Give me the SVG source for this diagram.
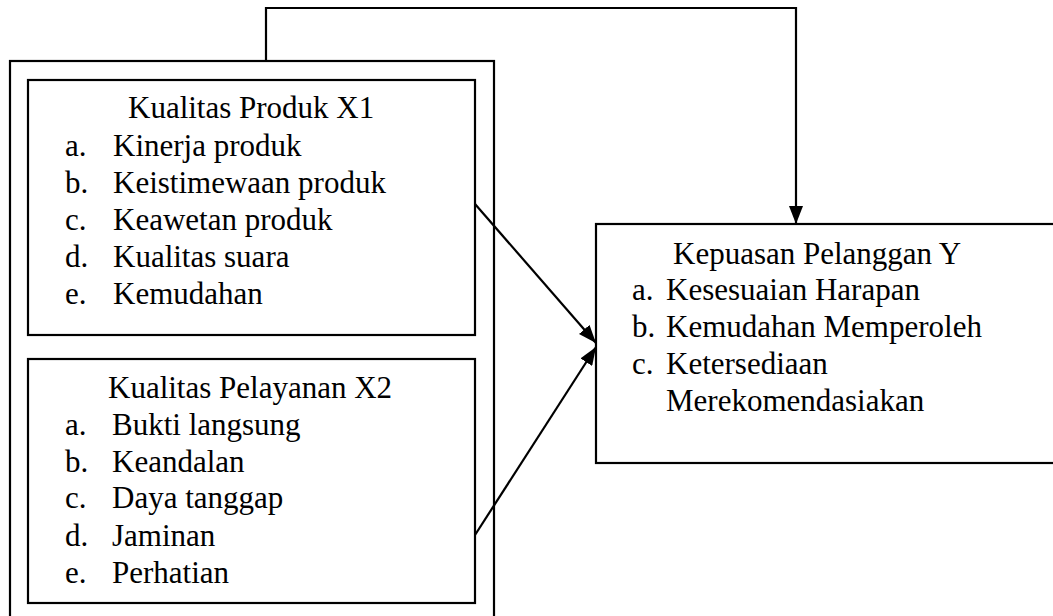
<svg xmlns="http://www.w3.org/2000/svg" width="1053" height="616" viewBox="0 0 1053 616">
<style>
.box{fill:none;stroke:#000;stroke-width:2.2}
.line{fill:none;stroke:#000;stroke-width:2.2}
.t{font-family:'Liberation Serif','Times New Roman',Times,serif;font-size:31px;fill:#000}
</style>
<defs>
<marker id="arr" viewBox="0 0 18 14" refX="18" refY="7" markerWidth="18" markerHeight="14" markerUnits="userSpaceOnUse" orient="auto">
<path d="M0,0 L18,7 L0,14 Z" fill="#000"/>
</marker>
</defs>
<rect width="1053" height="616" fill="#fff"/>
<g id="outer">
<rect class="box" x="10" y="61" width="484" height="570"/>
</g>
<g id="x1" class="t" font-family="Liberation Serif, serif">
<rect class="box" x="28" y="80" width="447" height="255"/>
<text x="128" y="118">Kualitas Produk X1</text>
<text x="65" y="156">a.</text><text x="113" y="156">Kinerja produk</text>
<text x="65" y="193">b.</text><text x="113" y="193">Keistimewaan produk</text>
<text x="65" y="230">c.</text><text x="113" y="230">Keawetan produk</text>
<text x="65" y="267">d.</text><text x="113" y="267">Kualitas suara</text>
<text x="65" y="304">e.</text><text x="113" y="304">Kemudahan</text>
</g>
<g id="x2" class="t" font-family="Liberation Serif, serif">
<rect class="box" x="28" y="359" width="447" height="244"/>
<text x="108" y="398">Kualitas Pelayanan X2</text>
<text x="65" y="435">a.</text><text x="112" y="435">Bukti langsung</text>
<text x="65" y="472">b.</text><text x="112" y="472">Keandalan</text>
<text x="65" y="508">c.</text><text x="112" y="508">Daya tanggap</text>
<text x="65" y="546">d.</text><text x="112" y="546">Jaminan</text>
<text x="65" y="583">e.</text><text x="112" y="583">Perhatian</text>
</g>
<g id="y" class="t" font-family="Liberation Serif, serif">
<rect class="box" x="596" y="224" width="470" height="239"/>
<text x="673" y="264">Kepuasan Pelanggan Y</text>
<text x="632" y="300">a.</text><text x="666" y="300">Kesesuaian Harapan</text>
<text x="632" y="337">b.</text><text x="666" y="337">Kemudahan Memperoleh</text>
<text x="632" y="374">c.</text><text x="666" y="374">Ketersediaan</text>
<text x="666" y="411">Merekomendasiakan</text>
</g>
<g id="connectors">
<path class="line" d="M266,61 V8 H796 V224" marker-end="url(#arr)"/>
<path class="line" d="M475,204 L596,343" marker-end="url(#arr)"/>
<path class="line" d="M475,535 L596,347" marker-end="url(#arr)"/>
</g>
</svg>
